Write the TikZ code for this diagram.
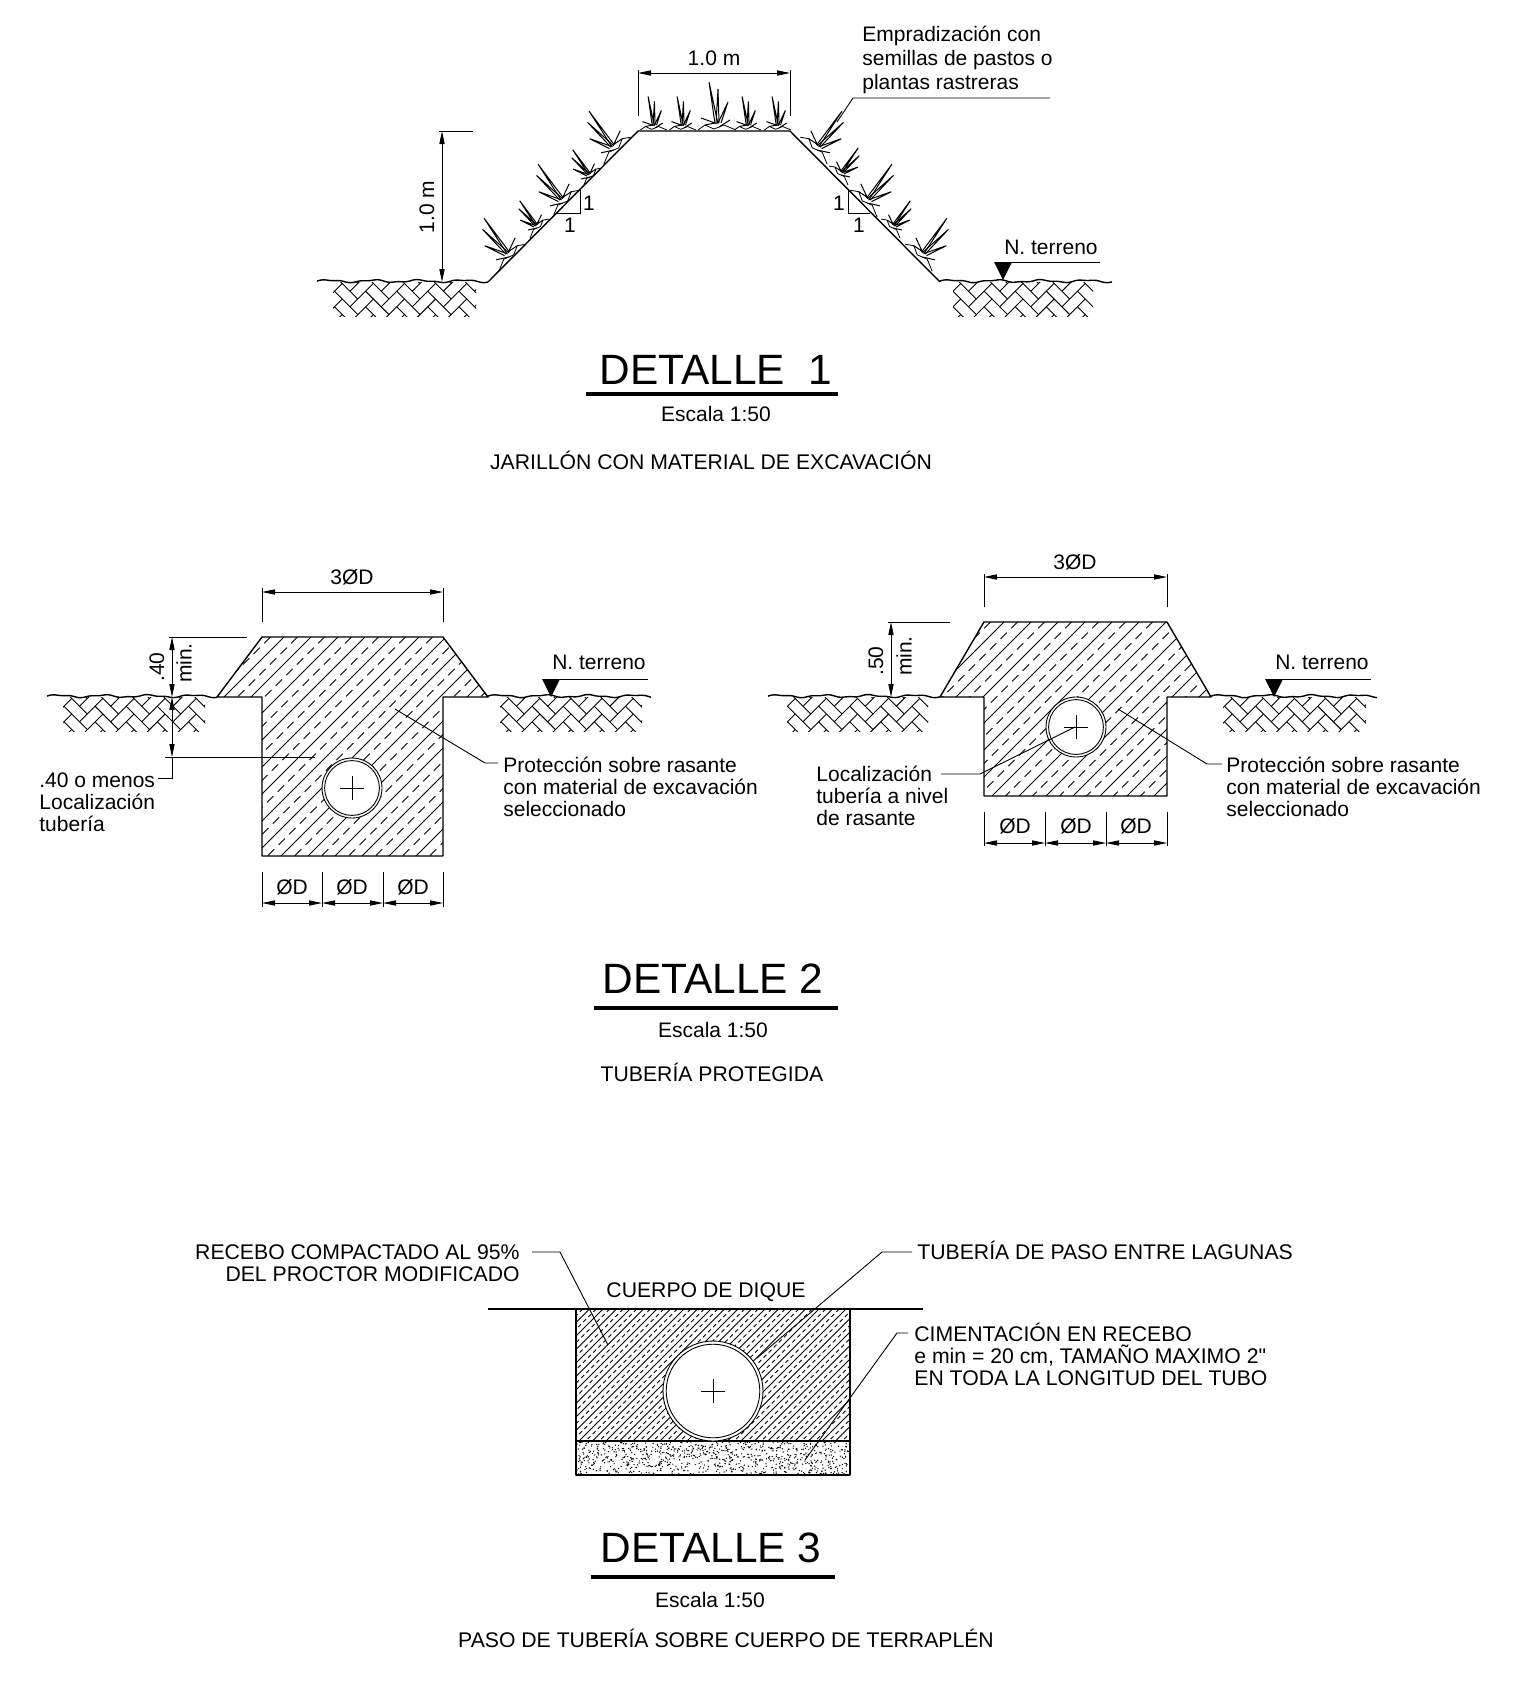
\documentclass[tikz,border=0pt]{standalone}
\usepackage{fontspec}
\setmainfont{Liberation Sans}
\newfontfamily\plainfont{Liberation Sans}[Mapping=]
\usetikzlibrary{arrows.meta}
\tikzset{
    txt/.style={font=\fontsize{10.5}{11}\selectfont,inner sep=0pt,align=left},
    caps/.style={font=\fontsize{10.6}{11}\selectfont,inner sep=0pt,align=left},
    ttl/.style={font=\fontsize{21.2}{22}\selectfont,inner sep=0pt},
    outline/.style={line width=0.7pt,line join=round},
    thin line/.style={line width=0.45pt},
    dimline/.style={line width=0.45pt,{Triangle[length=6.5pt,width=2.6pt]}-{Triangle[length=6.5pt,width=2.6pt]}},
    grassline/.style={line width=0.5pt,line join=miter}
}
\newcommand{\wavy}[3]{\draw[outline] plot[domain=#1:#2,samples=90,smooth] (\x,{#3-0.9-1.1*sin(8*(\x-#1))-0.5*sin(19*(\x-#1))});}
\newcommand{\soilhatch}[3]{
    \begin{scope}
        \clip (#1,#3) rectangle (#2,#3+34);
        \begin{scope}[shift={({(#1+#2)/2},#3+17)},rotate=-45,thin line]
            \foreach \n in {-7,...,7} \foreach \k in {-4,...,4} {
                \draw ({(\n-1+4*\k)*11},{\n*11}) -- ++(33,0);
                \draw ({\n*11},{(\n+4*\k)*11}) -- ++(0,33);
            }
        \end{scope}
    \end{scope}
}
\newcommand{\hatchlines}[5]{
    \foreach \c in {#1} {
        \draw[thin line] (\c,#2) -- ({\c-(#3-#2)},#3);
        \draw[thin line,dash pattern=#5] ({\c+#4/2},#2) -- ({\c+#4/2-(#3-#2)},#3);
    }
}
\newcommand{\grass}[1]{
    \begin{scope}[#1,grassline]
        \draw (-1,-6) -- (-7,-48) -- (2,-6);
        \draw (0,-6) -- (2,-41) -- (3,-7);
        \draw (2,-7) -- (12,-28) -- (5,-7);
        \draw (-15,-12) -- (-1,-7) -- (-11,-5);
        \draw (14,-10) -- (3,-3);
        \draw[line width=0.4pt] (-18,0) -- (-11,-5) -- (-2,-1) -- (3,-3) -- (8,-5) -- (20,0);
    \end{scope}
}
\newcommand{\pipe}[4]{
    \filldraw[thin line,fill=white] (#1,#2) circle (#3);
    \draw[thin line] (#1,#2) circle (#4);
    \draw[thin line] (#1-12,#2) -- (#1+12,#2) (#1,#2-12) -- (#1,#2+12);
}
\newcommand{\terreno}[4]{
    \node[txt] (#4) at (#1+48,#3) {N. terreno};
    \fill (#1-9,#2-18) -- (#1+9,#2-18) -- (#1,#2) -- cycle;
    \draw[thin line] (#1+9,#2-18) -- (#1+97,#2-18);
}
\begin{document}
\begin{tikzpicture}[x=0.5pt,y=-0.5pt]
    \useasboundingbox (0,0) rectangle (1530,1687);

    % detalle 1
    \wavy{317}{488}{282}
    \wavy{940}{1112}{282}
    \soilhatch{333}{476}{282}
    \soilhatch{953}{1093}{282}
    \draw[outline] (488,282) -- (638,131) -- (790,131) -- (940,282);
    \foreach \x/\y/\s in {513/257/1,540/228/0.7,567/203/1,593/177/0.7,618/150/1}
        \grass{shift={(\x,\y)},xscale=-1,rotate=-45,scale=\s};
    \foreach \x/\y/\s in {813/150/1,838/175/0.7,863/203/1,890/228/0.7,918/257/1}
        \grass{shift={(\x,\y)},rotate=-45,scale=\s};
    \foreach \x/\s in {653/0.7,682/0.7,716/1,747/0.7,777/0.7}
        \grass{shift={(\x,130)},scale=\s};
    \draw[dimline] (442,131) -- (442,282);
    \draw[thin line] (439,131) -- (473,131);
    \node[txt,rotate=90] (altoA) at (427,207) {1.0 m};
    \draw[dimline] (638,73) -- (790,73);
    \draw[thin line] (638,70) -- (638,116) (790,70) -- (790,116);
    \node[txt] (anchoA) at (714,58) {1.0 m};
    \draw[thin line] (580,190) -- (580,213) -- (557,213);
    \draw[thin line] (848,190) -- (848,213) -- (870,213);
    \node[txt] (unoA) at (589,203) {1};
    \node[txt] (unoB) at (570,225) {1};
    \node[txt] (unoC) at (839,203) {1};
    \node[txt] (unoD) at (859,225) {1};
    \node[txt,font=\fontsize{10.5}{12}\selectfont,anchor=west] (empra) at (862,60) {Empradización con\\semillas de pastos o\\plantas rastreras};
    \draw[thin line] (1050,98) -- (853,98) -- (837,122);
    \terreno{1003}{280}{247}{terrenoA}
    \node[ttl] (tituloA) at (716,370) {DETALLE\ \ 1};
    \draw[line width=2.3pt] (586,394) -- (838,394);
    \node[txt] (escalaA) at (716,414) {Escala 1:50};
    \node[caps] (subA) at (711,460) {JARILLÓN CON MATERIAL DE EXCAVACIÓN};

    % detalle 2, izquierda
    \wavy{47}{217}{697}
    \wavy{488}{651}{697}
    \soilhatch{63}{205}{697}
    \soilhatch{500}{642}{697}
    \begin{scope}
        \clip (217,697) -- (262,637) -- (443,637) -- (488,697) -- (443,697) -- (443,856) -- (262,856) -- (262,697) -- cycle;
        \hatchlines{230,257,...,690}{637}{856}{27}{on 4.5pt off 3pt}
    \end{scope}
    \draw[outline] (217,697) -- (262,697) -- (262,856) -- (443,856) -- (443,697) -- (488,697) -- (443,637) -- (262,637) -- cycle;
    \pipe{352}{788}{15pt}{13.7pt}
    \draw[dimline] (262,592) -- (443,592);
    \draw[thin line] (262,588) -- (262,622) (443,588) -- (443,622);
    \node[txt] (tresA) at (352,577) {3ØD};
    \draw[dimline] (172,637) -- (172,697);
    \draw[dimline] (172,697) -- (172,757);
    \draw[thin line] (169,637) -- (247,637) (165,757) -- (315,757);
    \draw[thin line] (172,757) -- (172,778) -- (158,778);
    \node[txt,rotate=90] (cuarenta) at (157,667) {.40};
    \node[txt,rotate=90] (minA) at (184,663) {min.};
    \node[txt,anchor=west] (locA) at (39,802) {.40 o menos\\Localización\\tubería};
    \draw[dimline] (262,903) -- (322,903);
    \draw[dimline] (322,903) -- (383,903);
    \draw[dimline] (383,903) -- (443,903);
    \foreach \x in {262,322,383,443} \draw[thin line] (\x,872) -- (\x,907);
    \node[txt] (diaA) at (292,887) {ØD};
    \node[txt] (diaB) at (352,887) {ØD};
    \node[txt] (diaC) at (413,887) {ØD};
    \draw[thin line] (395,709) -- (485,763) -- (498,763);
    \node[txt,anchor=west] (protA) at (503,787) {Protección sobre rasante\\con material de excavación\\seleccionado};
    \terreno{551}{697}{662}{terrenoB}

    % detalle 2, derecha
    \wavy{768}{940}{697}
    \wavy{1211}{1377}{697}
    \soilhatch{787}{928}{697}
    \soilhatch{1223}{1366}{697}
    \begin{scope}
        \clip (940,697) -- (984,622) -- (1167,622) -- (1211,697) -- (1167,697) -- (1167,796) -- (984,796) -- (984,697) -- cycle;
        \hatchlines{950,977,...,1390}{622}{796}{27}{on 4.5pt off 3pt}
    \end{scope}
    \draw[outline] (940,697) -- (984,697) -- (984,796) -- (1167,796) -- (1167,697) -- (1211,697) -- (1167,622) -- (984,622) -- cycle;
    \pipe{1076}{727}{15pt}{13.7pt}
    \draw[dimline] (984,577) -- (1167,577);
    \draw[thin line] (984,574) -- (984,607) (1167,574) -- (1167,607);
    \node[txt] (tresB) at (1075,562) {3ØD};
    \draw[dimline] (891,622) -- (891,697);
    \draw[thin line] (888,622) -- (950,622);
    \node[txt,rotate=90] (cincuenta) at (876,661) {.50};
    \node[txt,rotate=90] (minB) at (904,656) {min.};
    \node[txt,anchor=west] (locB) at (816,795.5) {Localización\\tubería a nivel\\de rasante};
    \draw[thin line] (941,774) -- (980,774) -- (1075,727);
    \draw[dimline] (984,843) -- (1045,843);
    \draw[dimline] (1045,843) -- (1106,843);
    \draw[dimline] (1106,843) -- (1167,843);
    \foreach \x in {984,1045,1106,1167} \draw[thin line] (\x,812) -- (\x,846);
    \node[txt] (diaD) at (1015,826) {ØD};
    \node[txt] (diaE) at (1076,826) {ØD};
    \node[txt] (diaF) at (1136,826) {ØD};
    \draw[thin line] (1118,709) -- (1207,764) -- (1222,764);
    \node[txt,anchor=west] (protB) at (1226,787) {Protección sobre rasante\\con material de excavación\\seleccionado};
    \terreno{1274}{697}{662}{terrenoC}
    \node[ttl] (tituloB) at (713,979) {DETALLE 2};
    \draw[line width=2.3pt] (594,1008) -- (838,1008);
    \node[txt] (escalaB) at (713,1030) {Escala 1:50};
    \node[caps] (subB) at (712,1072) {TUBERÍA PROTEGIDA};

    % detalle 3
    \begin{scope}
        \clip (576,1309) rectangle (850,1441);
        \hatchlines{576,589.5,...,990}{1309}{1441}{13.5}{on 2pt off 1.6pt}
    \end{scope}
    \pgfmathsetseed{11}
    \foreach \i in {1,...,850} {
        \pgfmathsetmacro\px{577+272*rnd}
        \pgfmathsetmacro\py{1442+32*rnd}
        \fill (\px,\py) circle (0.36pt);
    }
    \draw[outline] (576,1309) rectangle (850,1475);
    \draw[outline] (576,1441) -- (850,1441);
    \draw[outline] (488,1309) -- (923,1309);
    \pipe{713}{1391}{25pt}{23.4pt}
    \node[caps] (cuerpo) at (706,1292) {CUERPO DE DIQUE};
    \node[caps,align=right,anchor=east] (recebo) at (520,1263) {RECEBO COMPACTADO AL 95\%\\DEL PROCTOR MODIFICADO};
    \draw[thin line] (532,1252) -- (560,1252) -- (608,1345);
    \node[caps,anchor=west] (paso) at (917,1250) {TUBERÍA DE PASO ENTRE LAGUNAS};
    \draw[thin line] (912,1252) -- (882,1252) -- (757,1358);
    \node[caps,anchor=west] (cimen) at (914,1354) {CIMENTACIÓN EN RECEBO\\e min = 20 cm, TAMAÑO MAXIMO 2{\plainfont"}\\EN TODA LA LONGITUD DEL TUBO};
    \draw[thin line] (908,1333) -- (897,1333) -- (805,1460);
    \node[ttl] (tituloC) at (711,1548) {DETALLE 3};
    \draw[line width=2.3pt] (591,1577) -- (835,1577);
    \node[txt] (escalaC) at (710,1600) {Escala 1:50};
    \node[caps] (subC) at (726,1638) {PASO DE TUBERÍA SOBRE CUERPO DE TERRAPLÉN};
\end{tikzpicture}
\end{document}
